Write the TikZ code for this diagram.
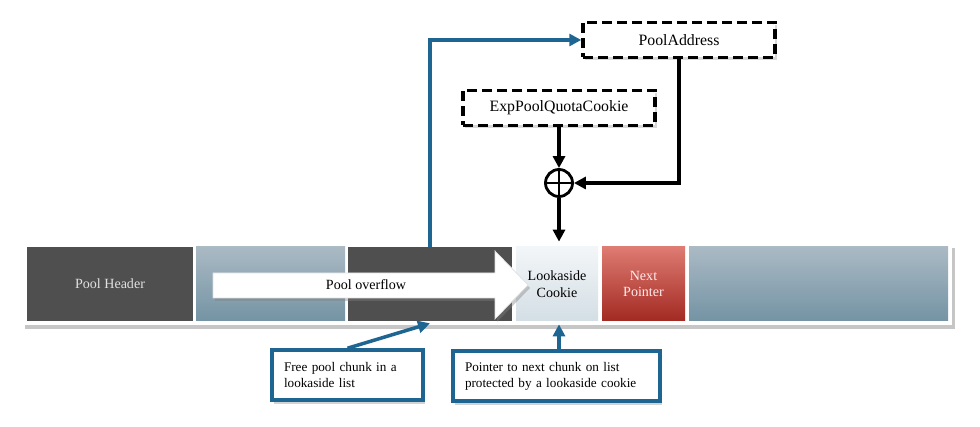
\documentclass[tikz,border=0pt]{standalone}
\usepackage{fontspec}
\setmainfont{Liberation Serif}
\definecolor{poolgray}{HTML}{4F4F4F}
\definecolor{slatetop}{HTML}{AABAC4}
\definecolor{slatebot}{HTML}{7493A4}
\definecolor{cookietop}{HTML}{F3F6F8}
\definecolor{cookiebot}{HTML}{D3DEE5}
\definecolor{redtop}{HTML}{DE7B72}
\definecolor{redbot}{HTML}{A22A22}
\definecolor{callblue}{HTML}{1F6592}
\usepackage{tikz}
\usetikzlibrary{arrows.meta,positioning,shadows}

\begin{document}
\begin{tikzpicture}[x=0.2mm, y=-0.2mm,
  seg/.style={minimum height=14.8mm, inner sep=0pt, font=\footnotesize, align=center},
  dashbox/.style={draw=black, dash pattern=on 2mm off 1mm, line width=2pt, fill=white,
    minimum width=38.4mm, minimum height=7mm, font=\small,
    drop shadow={opacity=0.3, shadow xshift=0.4mm, shadow yshift=-0.6mm}},
  callout/.style={draw=callblue, line width=2pt, fill=white, align=left,
    font=\fontsize{7.5}{9}\selectfont, inner xsep=2.4mm, minimum height=10mm,
    drop shadow={opacity=0.35, shadow xshift=0.4mm, shadow yshift=-0.8mm}},
  arr/.style={-{Triangle[length=2.4mm,width=2.4mm]}, line width=2pt, #1}
]
  \useasboundingbox (0,0) rectangle (980,427);

  % Memory strip
  \fill[white, drop shadow={opacity=0.45, shadow xshift=0.5mm, shadow yshift=-0.8mm}]
    (22,244) rectangle (952,325);
  \node[seg, fill=poolgray, text=white!88!black, minimum width=33.2mm] (head) at (110,284) {Pool Header};
  \node[seg, top color=slatetop, bottom color=slatebot, minimum width=29.8mm] (free) at (270.5,284) {};
  \node[seg, fill=poolgray, minimum width=32.8mm] (chunk) at (430,284) {};
  \node[seg, top color=cookietop, bottom color=cookiebot, minimum width=16.4mm] (cookie) at (557,284) {Lookaside\\Cookie};
  \node[seg, top color=redtop, bottom color=redbot, text=red!8!white, minimum width=16.6mm] (next) at (643.5,284) {Next\\Pointer};
  \node[seg, top color=slatetop, bottom color=slatebot, minimum width=51.8mm] (rest) at (818.5,284) {};

  % Overflow arrow
  \filldraw[fill=white, draw=black!12, drop shadow={opacity=0.4, shadow xshift=0.4mm, shadow yshift=-0.6mm}]
    (213,273) -- (495,273) -- (495,251) -- (528,285) -- (495,319) -- (495,298) -- (213,298) -- cycle;
  \node[font=\footnotesize] (ovf) at (366,285) {Pool overflow};

  % Cookie computation
  \node[dashbox] (paddr) at (679,40) {PoolAddress};
  \node[dashbox] (quota) at (559,108) {ExpPoolQuotaCookie};
  \node[draw, circle, line width=1.6pt, minimum size=5.4mm, inner sep=0pt] (xor) at (559,183) {};
  \draw[line width=1.2pt] (xor.north) -- (xor.south) (xor.west) -- (xor.east);

  \draw[arr=black] (quota.south) -- (xor.north);
  \draw[arr=black] (paddr.south) |- (xor.east);
  \draw[arr=black] (xor.south) -- ([yshift=1mm]xor.south |- cookie.north);
  \draw[arr=callblue] (chunk.north) |- (paddr.west);

  % Callouts
  \node[callout, text width=25.4mm] (freebox) at (347.5,375) {Free pool chunk in a\\lookaside list};
  \node[callout, text width=36.6mm] (ptrbox) at (556.5,376) {Pointer to next chunk on list\\protected by a lookaside cookie};
  \draw[arr=callblue] (freebox.north) -- ([yshift=-0.4mm]chunk.south);
  \draw[arr=callblue] (ptrbox.north -| xor) -- ([yshift=-0.6mm]xor |- cookie.south);
\end{tikzpicture}
\end{document}
